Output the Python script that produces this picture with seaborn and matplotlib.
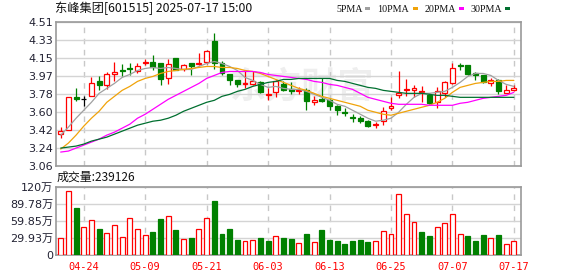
import numpy as np
import pandas as pd
import matplotlib
matplotlib.use("Agg")
import matplotlib.pyplot as plt
import seaborn as sns
from matplotlib.patches import Rectangle

# ---------------- data ----------------
stock_name = "东峰集团"
stock_code = "601515"
stamp = "2025-07-17 15:00"

dates = ["04-21", "04-22", "04-23", "04-24", "04-25", "04-28", "04-29", "04-30",
         "05-06", "05-07", "05-08", "05-09", "05-12", "05-13", "05-14", "05-15",
         "05-16", "05-19", "05-20", "05-21", "05-22", "05-23", "05-26", "05-27",
         "05-28", "05-29", "05-30", "06-03", "06-04", "06-05", "06-06", "06-09",
         "06-10", "06-11", "06-12", "06-13", "06-16", "06-17", "06-18", "06-19",
         "06-20", "06-23", "06-24", "06-25", "06-26", "06-27", "06-30", "07-01",
         "07-02", "07-03", "07-04", "07-07", "07-08", "07-09", "07-10", "07-11",
         "07-14", "07-15", "07-16", "07-17"]
tick_dates = ["04-24", "05-09", "05-21", "06-03", "06-13", "06-25", "07-07", "07-17"]

open_ = [3.38, 3.42, 3.75, 3.73, 3.76, 3.91, 3.87, 3.98, 4.02, 4.04,
         4.01, 4.10, 4.11, 4.09, 3.94, 4.15, 4.03, 4.09, 4.08, 4.11,
         4.32, 4.09, 3.98, 3.92, 3.88, 3.88, 3.90, 3.77, 3.80, 3.88,
         3.83, 3.81, 3.82, 3.70, 3.73, 3.72, 3.66, 3.60, 3.55, 3.54,
         3.51, 3.47, 3.51, 3.64, 3.77, 3.82, 3.82, 3.80, 3.77, 3.70,
         3.79, 3.89, 4.07, 4.07, 3.99, 3.97, 3.89, 3.92, 3.79, 3.82]
high = [3.45, 3.75, 3.84, 3.76, 3.95, 3.96, 4.00, 4.11, 4.08, 4.09,
        4.10, 4.14, 4.18, 4.10, 4.14, 4.15, 4.08, 4.10, 4.20, 4.23,
        4.40, 4.12, 3.98, 3.92, 4.01, 4.01, 3.91, 3.84, 3.92, 3.91,
        3.90, 3.85, 3.84, 3.76, 3.94, 3.73, 3.67, 3.64, 3.58, 3.56,
        3.52, 3.50, 3.65, 3.75, 4.01, 3.93, 3.87, 3.86, 3.79, 3.85,
        3.91, 4.10, 4.10, 4.07, 4.00, 3.97, 3.94, 3.93, 3.87, 3.87]
low = [3.34, 3.42, 3.71, 3.66, 3.76, 3.82, 3.83, 3.91, 3.96, 3.97,
       3.99, 4.07, 4.02, 3.87, 3.88, 4.02, 4.01, 3.97, 4.07, 4.08,
       4.03, 3.97, 3.87, 3.85, 3.84, 3.87, 3.79, 3.72, 3.75, 3.81,
       3.78, 3.78, 3.62, 3.67, 3.70, 3.62, 3.57, 3.56, 3.50, 3.49,
       3.45, 3.44, 3.47, 3.62, 3.74, 3.76, 3.75, 3.70, 3.68, 3.64,
       3.75, 3.88, 4.02, 3.97, 3.92, 3.89, 3.86, 3.78, 3.79, 3.81]
close = [3.41, 3.75, 3.73, 3.73, 3.89, 3.87, 3.98, 4.00, 4.01, 4.03,
         4.06, 4.11, 4.05, 3.93, 4.08, 4.02, 4.07, 4.06, 4.09, 4.22,
         4.09, 3.99, 3.92, 3.88, 3.89, 3.91, 3.80, 3.78, 3.91, 3.82,
         3.81, 3.82, 3.71, 3.72, 3.71, 3.66, 3.62, 3.59, 3.54, 3.51,
         3.46, 3.48, 3.61, 3.66, 3.79, 3.83, 3.84, 3.81, 3.69, 3.81,
         3.90, 4.04, 4.06, 3.98, 3.97, 3.90, 3.92, 3.81, 3.82, 3.84]

# volume in 万 (10k) shares
volume = [29.3, 112, 83, 49, 61, 45.7, 38.6, 52, 31.6, 66,
          45, 34.5, 40, 63, 68, 44, 29, 30, 45, 66,
          95, 37, 45.7, 26, 24.6, 26, 30, 24.6, 33, 30,
          28, 21, 37, 23, 44, 26, 24.6, 19, 24.6, 26,
          23, 24.6, 43, 37, 107, 73, 58, 40, 33, 48.6,
          55.6, 72, 37, 33, 24.6, 35, 30, 35, 19, 23.9126]

ma5 = [3.37, 3.45, 3.54, 3.62, 3.70, 3.79, 3.84, 3.89, 3.95, 3.98,
       4.02, 4.04, 4.05, 4.04, 4.05, 4.04, 4.03, 4.03, 4.06, 4.09,
       4.11, 4.09, 4.06, 4.02, 3.95, 3.92, 3.88, 3.85, 3.86, 3.84,
       3.83, 3.83, 3.81, 3.78, 3.75, 3.72, 3.68, 3.66, 3.62, 3.58,
       3.54, 3.51, 3.52, 3.54, 3.60, 3.68, 3.75, 3.79, 3.79, 3.80,
       3.81, 3.85, 3.90, 3.96, 3.99, 3.99, 3.97, 3.92, 3.88, 3.86]
ma10 = [3.23, 3.29, 3.37, 3.46, 3.54, 3.61, 3.70, 3.76, 3.82, 3.86,
        3.91, 3.94, 3.96, 3.99, 4.01, 4.02, 4.03, 4.04, 4.05, 4.06,
        4.06, 4.05, 4.05, 4.04, 4.02, 4.01, 3.99, 3.96, 3.93, 3.90,
        3.87, 3.84, 3.82, 3.79, 3.76, 3.74, 3.72, 3.70, 3.68, 3.66,
        3.62, 3.60, 3.58, 3.57, 3.59, 3.61, 3.63, 3.65, 3.67, 3.70,
        3.74, 3.80, 3.85, 3.87, 3.89, 3.90, 3.91, 3.91, 3.92, 3.92]
ma20 = [3.20, 3.21, 3.24, 3.27, 3.30, 3.33, 3.37, 3.40, 3.44, 3.48,
        3.54, 3.58, 3.63, 3.68, 3.73, 3.77, 3.81, 3.85, 3.89, 3.94,
        3.97, 4.00, 4.01, 4.01, 4.01, 4.01, 4.00, 3.98, 3.97, 3.96,
        3.95, 3.94, 3.93, 3.91, 3.90, 3.88, 3.87, 3.85, 3.83, 3.79,
        3.75, 3.73, 3.71, 3.69, 3.68, 3.68, 3.68, 3.68, 3.67, 3.67,
        3.67, 3.67, 3.69, 3.70, 3.72, 3.74, 3.75, 3.76, 3.77, 3.80]
ma30 = [3.24, 3.25, 3.26, 3.28, 3.31, 3.33, 3.35, 3.38, 3.41, 3.44,
        3.47, 3.49, 3.51, 3.52, 3.54, 3.57, 3.61, 3.64, 3.67, 3.70,
        3.72, 3.76, 3.78, 3.81, 3.83, 3.86, 3.88, 3.90, 3.91, 3.93,
        3.93, 3.94, 3.94, 3.94, 3.94, 3.94, 3.92, 3.91, 3.89, 3.87,
        3.85, 3.84, 3.82, 3.81, 3.80, 3.79, 3.79, 3.79, 3.78, 3.77,
        3.77, 3.76, 3.75, 3.75, 3.75, 3.75, 3.75, 3.75, 3.75, 3.75]

ma_names = ["5PMA", "10PMA", "20PMA", "30PMA"]
price_tick_labels = ["3.06", "3.24", "3.42", "3.60", "3.78", "3.97", "4.15", "4.33", "4.51"]
price_min, price_max = 3.06, 4.51
vol_tick_labels = ["0", "29.93万", "59.85万", "89.78万", "120万"]
vol_max = 119.7

# ---------------- style ----------------
RED = "#ff0000"
GREEN = "#008000"
ma_colors = {"5PMA": "#a0a0a0", "10PMA": "#f0a30a", "20PMA": "#ff00ff", "30PMA": "#006f2f"}
GRID = "#d4d4d4"
SPINE = "#9a9a9a"
LABEL = "#222233"

sns.set_theme(style="white")
plt.rcParams["font.family"] = ["DejaVu Sans", "Noto Sans CJK SC"]

W, H = 578, 276
fig = plt.figure(figsize=(W / 100, H / 100), dpi=100)
fig.patch.set_facecolor("white")


def fx(x):
    return x / W


def fy(y):
    return 1 - y / H


L, R = 56, 521
ax = fig.add_axes([fx(L), fy(166), (R - L) / W, (166 - 21.7) / H])
axv = fig.add_axes([fx(L), fy(255), (R - L) / W, (255 - 187) / H])

n = len(close)
xs = np.arange(n)
tick_pos = [dates.index(d) for d in tick_dates]

# watermark
ax.text(0.53, 0.55, "东方财富", transform=ax.transAxes, fontsize=26, fontweight="bold",
        family=["Noto Sans CJK SC"], color="#eeeeee", ha="center", va="center",
        style="italic", zorder=0)

# candles
o = np.array(open_); c = np.array(close); h = np.array(high); l = np.array(low)
up = c > o
down = c < o
edge = np.where(up, RED, np.where(down, GREEN, "black"))
face = np.where(up, "white", np.where(down, GREEN, "black"))
ax.vlines(xs, l, h, colors=edge, lw=0.9, zorder=3)
body_bottom = np.minimum(o, c)
body_h = np.maximum(np.abs(c - o), 0.004)
ax.bar(xs, body_h, bottom=body_bottom, width=0.64, color=face, edgecolor=edge,
       linewidth=0.9, zorder=4)

# moving averages
ma_df = pd.DataFrame({
    "x": np.tile(xs, 4),
    "v": np.concatenate([ma5, ma10, ma20, ma30]),
    "ma": np.repeat(ma_names, n),
})
sns.lineplot(data=ma_df, x="x", y="v", hue="ma", palette=ma_colors, legend=False,
             ax=ax, lw=0.9, zorder=5)

# volume
prev_close = np.concatenate([[o[0]], c[:-1]])
vup = c >= prev_close
vedge = np.where(vup, RED, GREEN)
vface = np.where(vup, "white", GREEN)
axv.bar(xs, volume, width=0.64, color=vface, edgecolor=vedge, linewidth=0.9, zorder=3)

# axes styling
for a in (ax, axv):
    a.set_xlim(-0.61, 59.93)
    a.set_xlabel("")
    a.set_ylabel("")
    a.set_xticks(tick_pos)
    a.grid(False)
    a.xaxis.grid(True, color="#c8c8c8", lw=1, ls=(0, (4, 4)))
    a.yaxis.grid(True, color=GRID, lw=1)
    a.set_axisbelow(True)
    for s in a.spines.values():
        s.set_visible(True)
        s.set_color(SPINE)
        s.set_linewidth(1.2)
    a.tick_params(length=0, pad=2, labelsize=8, colors=LABEL)
    a.set_facecolor("white")

ax.set_ylim(price_min, price_max)
ax.set_yticks(np.linspace(price_min, price_max, len(price_tick_labels)))
ax.set_yticklabels(price_tick_labels)
ax.set_xticklabels([])

axv.set_ylim(0, vol_max)
axv.set_yticks(np.linspace(0, vol_max, len(vol_tick_labels)))
axv.set_yticklabels(vol_tick_labels)
axv.set_xticklabels(tick_dates, family="DejaVu Sans Mono", fontsize=7.4, color=RED)
axv.tick_params(axis="x", pad=5)

# header texts
fig.text(fx(55), fy(8.5), f"{stock_name}[{stock_code}] {stamp}", fontsize=8.8,
         family=["Noto Sans CJK SC", "DejaVu Sans"], color="#111111", ha="left", va="center")
fig.text(fx(57), fy(177), f"成交量:{int(round(volume[-1] * 10000))}", fontsize=8.6,
         family=["Noto Sans CJK SC", "DejaVu Sans"], color="#111111", ha="left", va="center")

legend_text_end = [362.7, 409.3, 455.7, 501.7]
legend_sq_x = [365, 413.3, 459.3, 505]
for name, tx, sx in zip(ma_names, legend_text_end, legend_sq_x):
    fig.text(fx(tx), fy(9), name, fontsize=7.2, family=["Liberation Serif"],
             color="#111111", ha="right", va="center")
    fig.add_artist(Rectangle((fx(sx), fy(10.3)), 5 / W, 3 / H, transform=fig.transFigure,
                             facecolor=ma_colors[name], edgecolor="none"))

fig.savefig("out.png", dpi=100, facecolor="white")
